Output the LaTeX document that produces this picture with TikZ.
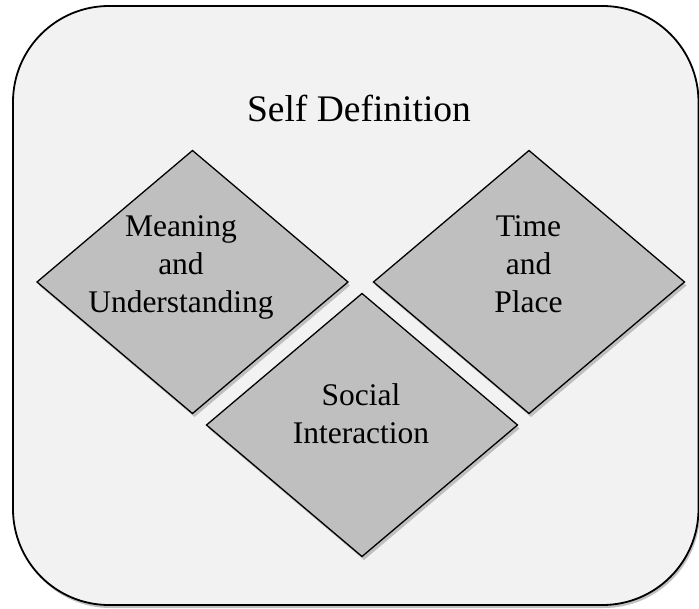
\documentclass[tikz,border=0pt]{standalone}
\usepackage{fontspec}
\setmainfont{Liberation Serif}
\usetikzlibrary{shapes.geometric,shadows}
\definecolor{panel}{HTML}{F2F2F2}
\definecolor{gem}{HTML}{BFBFBF}
\tikzset{
  panelbox/.style={draw=black, line width=1.8pt, fill=panel, rounded corners=96pt,
    drop shadow={shadow xshift=1.5pt, shadow yshift=-3pt, opacity=0.35, fill=black!70}},
  gembox/.style={diamond, draw=black, line width=1.3pt, fill=gem, inner sep=0pt, outer sep=0pt,
    minimum width=311pt, minimum height=263pt,
    drop shadow={shadow xshift=2pt, shadow yshift=-3.5pt, opacity=0.3, fill=black!70}},
  gemtext/.style={align=center, inner sep=0pt, anchor=north, font=\fontsize{31.5}{37.8}\selectfont},
  titletext/.style={inner sep=0pt, anchor=base, font=\fontsize{37.5}{44}\selectfont}
}
\begin{document}
\begin{tikzpicture}[x=1pt,y=-1pt]
  \useasboundingbox (0,0) rectangle (699,609);
  \clip (0,0) rectangle (699,609);
  \fill[white] (0,0) rectangle (699,609);
  \path[panelbox] (13,6) rectangle (698.5,605);
  \node[titletext] (title) at (359,122) {Self Definition};
  \node[gembox] (mean) at (192.5,282) {};
  \node[gembox] (time) at (529,282) {};
  \node[gembox] (soc) at (362,425) {};
  \node[gemtext] (meant) at (181,215.5) {Meaning\\and\\Understanding};
  \node[gemtext] (timet) at (528.5,215.5) {Time\\and\\Place};
  \node[gemtext] (soct) at (361,383.5) {Social\\Interaction};
\end{tikzpicture}
\end{document}
